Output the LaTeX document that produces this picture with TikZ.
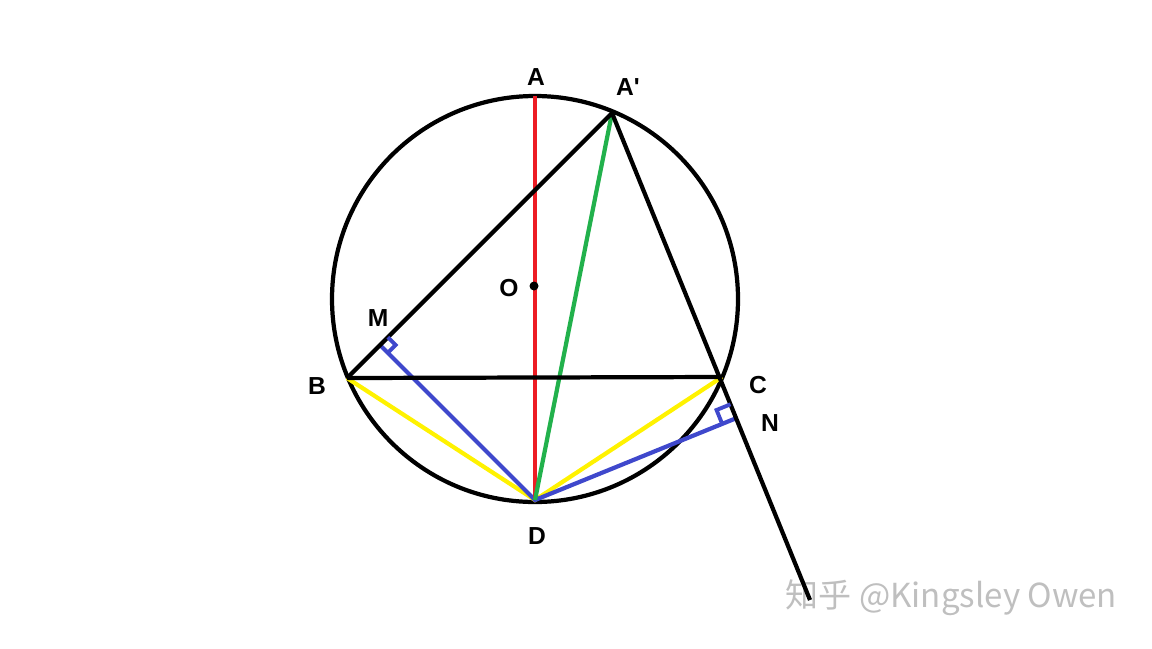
\documentclass[tikz,border=0pt]{standalone}
\usepackage{fontspec}
\setsansfont{Liberation Sans}
\newfontfamily\cjkfont{Noto Sans CJK SC}
\usetikzlibrary{calc}

\definecolor{pRed}{HTML}{ED1C24}
\definecolor{pGreen}{HTML}{22B14C}
\definecolor{pYellow}{HTML}{FFF200}
\definecolor{pBlue}{HTML}{3F48CC}

\tikzset{
    edge/.style={line width=1.2pt, black},
    chord/.style={line width=1.2pt},
    rightangle/.style={line width=1.1pt, pBlue, line join=miter},
    lbl/.style={font=\fontsize{7}{8}\sffamily\bfseries, inner sep=0pt}
}

\begin{document}
\begin{tikzpicture}[x=0.01cm, y=-0.01cm]
    \useasboundingbox (0,0) rectangle (1152,648);

    % points
    \coordinate (O) at (535,299);
    \coordinate (A) at (535,96);
    \coordinate (Ap) at (612,113);
    \coordinate (B) at (347,378);
    \coordinate (C) at (722,377);
    \coordinate (D) at (535,500);
    \coordinate (E) at (810,600);
    \coordinate (M) at ($(Ap)!(D)!(B)$);
    \coordinate (N) at ($(Ap)!(D)!(E)$);

    % watermark
    \node[
        font=\fontsize{9.4}{10}\cjkfont, 
        text=black!25, 
        anchor=west, 
        inner sep=0pt] 
        (wm) at (785,598) {知乎 @Kingsley Owen};

    \draw[edge] (O) circle (203);

    % coloured chords
    \draw[chord, pYellow] (B) -- (D) -- (C);
    \draw[chord, pBlue] (M) -- (D) -- (N);
    \draw[chord, pRed] (A) -- (D);
    \draw[chord, pGreen] (Ap) -- (D);

    % black lines
    \draw[edge] (B) -- (C);
    \draw[edge] (B) -- (Ap) -- (E);

    % right angles
    \coordinate (m1) at ($(M)!0.11cm!(Ap)$);
    \coordinate (m2) at ($(M)!0.11cm!(D)$);
    \draw[rightangle] (m1) -- ($(m1)+(m2)-(M)$) -- (m2);
    \coordinate (n1) at ($(N)!0.15cm!(Ap)$);
    \coordinate (n2) at ($(N)!0.15cm!(D)$);
    \draw[rightangle] (n1) -- ($(n1)+(n2)-(N)$) -- (n2);

    \fill (534,286) circle (4.5);

    % labels
    \node[lbl] (lA) at (536,77) {A};
    \node[lbl] (lAp) at (628,87) {A\textquotesingle};
    \node[lbl] (lO) at (509,288) {O};
    \node[lbl] (lM) at (378,318) {M};
    \node[lbl] (lB) at (317,386) {B};
    \node[lbl] (lC) at (758,385) {C};
    \node[lbl] (lN) at (770,423) {N};
    \node[lbl] (lD) at (537,536) {D};
\end{tikzpicture}
\end{document}
